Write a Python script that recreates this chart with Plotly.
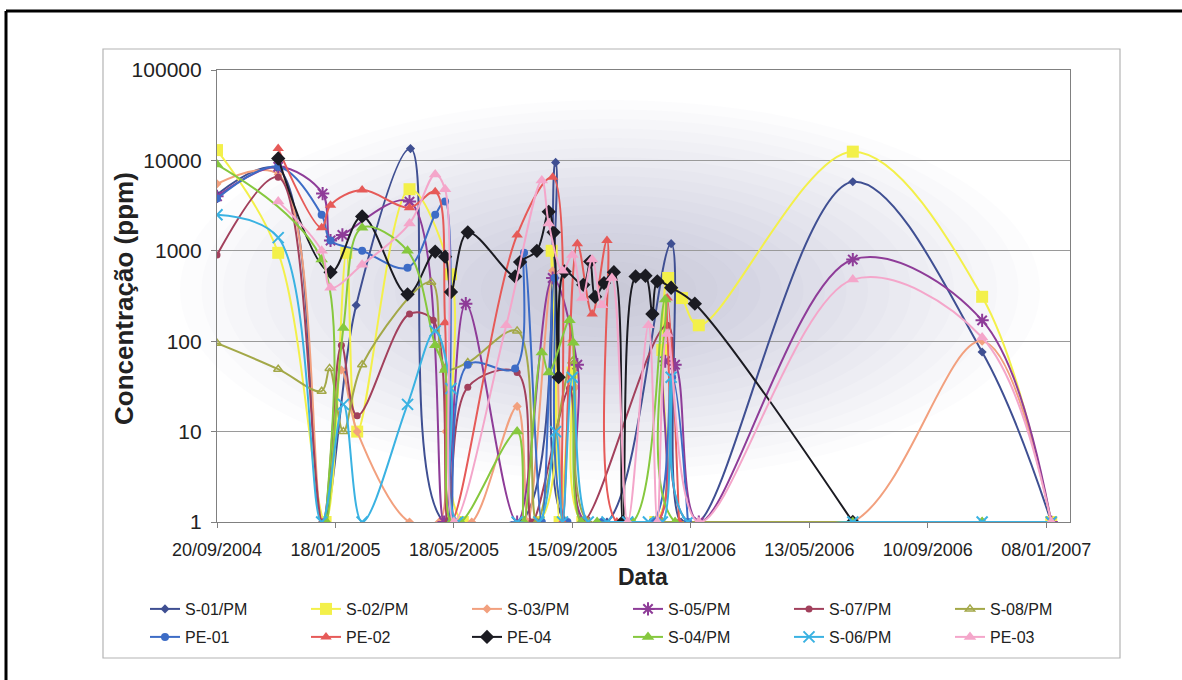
import plotly.graph_objects as go

# ---------------- monitoring data: sampling dates and concentrations (ppm) ----------------
s01_dates = ["2004-09-20", "2004-11-21", "2005-01-05", "2005-02-08", "2005-04-04", "2005-05-08",
             "2005-07-25", "2005-08-29", "2005-09-08", "2005-10-20", "2005-12-24", "2006-01-03",
             "2006-01-21", "2006-06-26", "2006-11-04", "2007-01-13"]
s01_ppm = [4200, 8000, 1, 250, 13500, 1, 1, 9500, 1, 1, 1200, 1, 1, 5800, 76, 1]

s02_dates = ["2004-09-20", "2004-11-21", "2005-01-08", "2005-01-29", "2005-02-09", "2005-04-03",
             "2005-05-15", "2005-05-27", "2005-08-12", "2005-08-25", "2005-09-02", "2005-09-15",
             "2005-09-25", "2005-12-08", "2005-12-15", "2005-12-21", "2006-01-04", "2006-01-21",
             "2006-06-26", "2006-11-04", "2007-01-13"]
s02_ppm = [13000, 950, 1, 950, 10, 4800, 550, 1, 1, 1000, 1, 45, 1, 1, 80, 500, 300, 150,
           12500, 310, 1]

s03_dates = ["2004-09-20", "2004-11-21", "2005-01-05", "2005-01-24", "2005-02-09", "2005-04-03",
             "2005-05-03", "2005-05-10", "2005-05-21", "2005-06-05", "2005-07-21", "2005-08-01",
             "2005-08-26", "2005-09-05", "2005-09-14", "2005-09-18", "2005-09-24", "2005-10-10",
             "2005-12-15", "2006-01-21", "2006-06-26", "2006-11-04", "2007-01-13"]
s03_ppm = [5500, 7000, 1, 48, 10, 1, 1, 10, 1, 1, 19, 1, 600, 1, 100, 31, 1, 1, 1, 1, 1, 100, 1]

s05_dates = ["2004-09-20", "2004-11-21", "2005-01-05", "2005-01-13", "2005-01-25", "2005-04-03",
             "2005-05-08", "2005-05-30", "2005-07-21", "2005-08-26", "2005-09-20", "2005-09-28",
             "2005-12-10", "2005-12-18", "2005-12-28", "2006-01-21", "2006-06-26", "2006-11-04",
             "2007-01-13"]
s05_ppm = [4000, 8500, 4300, 1300, 1500, 3500, 1, 260, 1, 500, 55, 1, 1, 60, 55, 1, 800, 170, 1]

s07_dates = ["2004-09-20", "2004-11-21", "2005-01-05", "2005-01-24", "2005-02-09", "2005-04-03",
             "2005-04-27", "2005-05-12", "2005-06-01", "2005-07-21", "2005-08-05", "2005-09-12",
             "2005-09-25", "2005-12-20", "2006-01-10", "2006-06-26", "2006-11-04", "2007-01-13"]
s07_ppm = [900, 6500, 1, 90, 15, 200, 170, 1, 31, 45, 1, 30, 1, 150, 1, 1, 1, 1]

s08_dates = ["2004-09-20", "2004-11-21", "2005-01-04", "2005-01-12", "2005-01-26", "2005-02-14",
             "2005-04-25", "2005-05-09", "2005-06-01", "2005-07-21", "2005-08-10", "2005-09-15",
             "2005-10-01", "2005-12-15", "2006-06-26", "2006-11-04", "2007-01-13"]
s08_ppm = [95, 49, 28, 50, 10, 55, 450, 50, 58, 130, 1, 60, 1, 1, 1, 1, 1]

pe01_dates = ["2004-09-20", "2004-11-21", "2005-01-04", "2005-01-13", "2005-02-14", "2005-04-01",
              "2005-04-29", "2005-05-09", "2005-05-15", "2005-06-01", "2005-07-19", "2005-07-28",
              "2005-08-15", "2005-08-28", "2005-09-10", "2005-10-15", "2005-12-05", "2005-12-25",
              "2006-01-10"]
pe01_ppm = [3800, 8500, 2500, 1300, 1000, 650, 2500, 3500, 1, 55, 50, 950, 1, 500, 1, 1, 1, 40, 1]

pe02_dates = ["2004-11-21", "2005-01-04", "2005-01-13", "2005-02-14", "2005-04-03", "2005-04-29",
              "2005-05-09", "2005-05-15", "2005-07-21", "2005-08-26", "2005-09-05", "2005-09-20",
              "2005-10-05", "2005-10-20", "2005-10-30", "2005-12-10", "2005-12-20", "2006-01-01"]
pe02_ppm = [13500, 1800, 3200, 4700, 3000, 4500, 160, 1, 1500, 6500, 1, 1200, 200, 1300, 1, 1,
            300, 1]

pe04_dates = ["2004-11-21", "2005-01-13", "2005-02-14", "2005-04-01", "2005-04-29", "2005-05-09",
              "2005-05-15", "2005-06-01", "2005-07-19", "2005-07-24", "2005-08-10", "2005-08-22",
              "2005-08-27", "2005-09-01", "2005-09-07", "2005-09-26", "2005-10-03", "2005-10-08",
              "2005-10-17", "2005-10-27", "2005-11-05", "2005-11-18", "2005-11-28", "2005-12-05",
              "2005-12-10", "2005-12-24", "2006-01-17", "2006-06-26"]
pe04_ppm = [10500, 580, 2400, 330, 980, 860, 350, 1600, 520, 750, 1000, 2700, 1600, 40, 590, 420,
            760, 310, 440, 580, 1, 520, 530, 200, 460, 390, 260, 1]

s04_dates = ["2004-09-20", "2005-01-04", "2005-01-09", "2005-01-26", "2005-02-14", "2005-04-01",
             "2005-04-29", "2005-05-09", "2005-05-15", "2005-05-25", "2005-07-21", "2005-07-28",
             "2005-08-15", "2005-08-22", "2005-09-12", "2005-09-16", "2005-09-24", "2005-10-10",
             "2005-11-15", "2005-12-18", "2005-12-28", "2006-06-26", "2006-11-04"]
s04_ppm = [9000, 800, 1, 140, 1800, 1000, 90, 48, 1, 1, 10, 1, 75, 45, 170, 96, 1, 1, 1, 290, 1,
           1, 1]

s06_dates = ["2004-09-20", "2004-11-21", "2005-01-04", "2005-01-26", "2005-02-14", "2005-04-01",
             "2005-04-29", "2005-05-15", "2005-05-22", "2005-07-21", "2005-08-12", "2005-08-29",
             "2005-09-05", "2005-09-15", "2005-10-01", "2005-10-20", "2005-11-10", "2005-12-01",
             "2005-12-15", "2005-12-24", "2006-01-10", "2006-06-26", "2006-11-04", "2007-01-13"]
s06_ppm = [2500, 1400, 1, 20, 1, 20, 130, 30, 1, 1, 1, 10, 1, 40, 1, 1, 1, 1, 1, 40, 1, 1, 1, 1]

pe03_dates = ["2004-11-21", "2005-01-04", "2005-01-13", "2005-02-14", "2005-04-03", "2005-04-29",
              "2005-05-09", "2005-05-18", "2005-07-10", "2005-08-15", "2005-08-22", "2005-09-05",
              "2005-09-15", "2005-09-25", "2005-10-05", "2005-10-15", "2005-10-25", "2005-11-10",
              "2005-12-01", "2005-12-10", "2005-12-20", "2006-01-21", "2006-06-26", "2006-11-04",
              "2007-01-13"]
pe03_ppm = [3500, 1000, 390, 700, 2000, 7000, 4800, 1, 150, 6000, 2000, 600, 900, 300, 800, 250,
            500, 1, 150, 1, 120, 1, 480, 110, 1]

# axis ticks
x_tick_dates = ["2004-09-20", "2005-01-18", "2005-05-18", "2005-09-15", "2006-01-13",
                "2006-05-13", "2006-09-10", "2007-01-08"]
x_tick_labels = ["20/09/2004", "18/01/2005", "18/05/2005", "15/09/2005", "13/01/2006",
                 "13/05/2006", "10/09/2006", "08/01/2007"]
y_tick_values = [1, 10, 100, 1000, 10000, 100000]
y_tick_labels = ["1", "10", "100", "1000", "10000", "100000"]

# ---------------- styling of each series (last field: legend row) ----------------
series = [
    ("S-01/PM", s01_dates, s01_ppm, "#3f4f92", "diamond", 7, None, "legend"),
    ("S-02/PM", s02_dates, s02_ppm, "#f3f04a", "square", 12, None, "legend"),
    ("S-03/PM", s03_dates, s03_ppm, "#f2a07e", "diamond", 7, None, "legend"),
    ("S-05/PM", s05_dates, s05_ppm, "#8e3c98", "asterisk-open", 11, 2, "legend"),
    ("S-07/PM", s07_dates, s07_ppm, "#a2405c", "circle", 7, None, "legend"),
    ("S-08/PM", s08_dates, s08_ppm, "#a3a848", "triangle-up-open", 8, 1.5, "legend"),
    ("PE-01", pe01_dates, pe01_ppm, "#3d6cc6", "circle", 8, None, "legend2"),
    ("PE-02", pe02_dates, pe02_ppm, "#e65a58", "triangle-up", 10, None, "legend2"),
    ("PE-04", pe04_dates, pe04_ppm, "#1b1b22", "diamond", 11, None, "legend2"),
    ("S-04/PM", s04_dates, s04_ppm, "#86c83e", "triangle-up", 11, None, "legend2"),
    ("S-06/PM", s06_dates, s06_ppm, "#3ab2e2", "x-thin-open", 11, 2, "legend2"),
    ("PE-03", pe03_dates, pe03_ppm, "#f4a6ca", "triangle-up", 11, None, "legend2"),
]

fig = go.Figure()
for name, xs, ys, color, symbol, size, mlw, leg in series:
    marker = dict(symbol=symbol, size=size, color=color)
    if mlw:
        marker["line"] = dict(color=color, width=mlw)
    fig.add_trace(go.Scatter(
        x=xs, y=ys, name=name, mode="lines+markers", legend=leg,
        line=dict(color=color, width=2, shape="spline", smoothing=1.0),
        marker=marker,
    ))

# ---------------- page geometry ----------------
W, H = 1182, 680
L, R, T, B = 217, 1070, 70, 522          # plot area edges in pixels
PW, PH = R - L, B - T


def px(xp):
    return (xp - L) / PW


def py(yp):
    return (B - yp) / PH


shapes = []
# soft blue-grey shading in the middle of the plot area
n_rings = 20
cx, cy = 610, 290
for i in range(n_rings):
    f = 1 - i / n_rings
    rx, ry = 430 * f, 190 * f
    shapes.append(dict(type="circle", xref="x domain", yref="y domain", layer="below",
                       x0=px(cx - rx), x1=px(cx + rx), y0=py(cy + ry), y1=py(cy - ry),
                       fillcolor="#7c86a4", opacity=0.024, line=dict(width=0)))
# outer chart-area frame
shapes.append(dict(type="rect", xref="paper", yref="paper", x0=px(103), x1=px(1120),
                   y0=py(658), y1=py(49), line=dict(color="#b4b4b4", width=1.2)))
# page frame (top and left edge)
shapes.append(dict(type="line", xref="paper", yref="paper", x0=px(6), x1=px(1190),
                   y0=py(11), y1=py(11), line=dict(color="#000000", width=3)))
shapes.append(dict(type="line", xref="paper", yref="paper", x0=px(6), x1=px(6),
                   y0=py(11), y1=py(690), line=dict(color="#000000", width=3)))

font_family = "Liberation Sans, Arial, sans-serif"
legend_style = dict(orientation="h", xanchor="left", yanchor="top",
                    entrywidth=116, entrywidthmode="pixels", itemwidth=30,
                    font=dict(size=16, family=font_family, color="#222222"),
                    bgcolor="rgba(0,0,0,0)")

fig.update_layout(
    width=W, height=H, autosize=False,
    margin=dict(l=L, r=W - R, t=T, b=H - B),
    paper_bgcolor="white", plot_bgcolor="white",
    font=dict(family=font_family, color="#222222"),
    shapes=shapes,
    showlegend=True,
    legend=dict(x=px(145), y=py(592), **legend_style),
    legend2=dict(x=px(145), y=py(620), **legend_style),
    annotations=[
        dict(text="<b>Concentração (ppm)</b>", xref="paper", yref="paper",
             x=px(124), y=py(299), textangle=-90, showarrow=False,
             font=dict(size=26, family=font_family, color="#222222"),
             xanchor="center", yanchor="middle"),
        dict(text="<b>Data</b>", xref="paper", yref="paper", x=px(643), y=py(577),
             showarrow=False, font=dict(size=23, family=font_family, color="#222222"),
             xanchor="center", yanchor="middle"),
    ],
)

fig.update_xaxes(
    type="date", range=["2004-09-20", "2007-02-01"],
    tickvals=x_tick_dates, ticktext=x_tick_labels,
    showgrid=False, zeroline=False,
    showline=True, linecolor="#808080", linewidth=1.2, mirror=True,
    ticks="outside", ticklen=5, tickcolor="#808080", ticklabelstandoff=6,
    tickfont=dict(size=18, family=font_family, color="#222222"),
)
fig.update_yaxes(
    type="log", range=[0, 5],
    tickvals=y_tick_values, ticktext=y_tick_labels,
    showgrid=True, gridcolor="#9a9a9a", gridwidth=1,
    zeroline=False, showline=True, linecolor="#808080", linewidth=1.2, mirror=True,
    ticks="outside", ticklen=5, tickcolor="#808080", ticklabelstandoff=5,
    tickfont=dict(size=21, family=font_family, color="#222222"),
)

fig.write_html("out.html")
